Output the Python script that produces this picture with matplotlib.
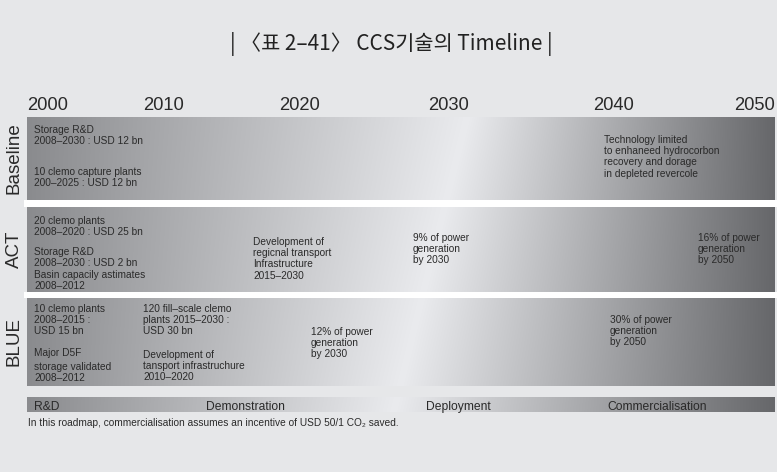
import numpy as np
import matplotlib
matplotlib.use("Agg")
import matplotlib.pyplot as plt
from matplotlib.patches import Rectangle

# ---------------- data ----------------
title = "| 〈표 2–41〉 CCS기술의 Timeline |"
years = [2000, 2010, 2020, 2030, 2040, 2050]
scenarios = ["Baseline", "ACT", "BLUE"]
span_start = [2000, 2000, 2000]
span_end = [2050, 2050, 2050]
phases = ["R&D", "Demonstration", "Deployment", "Commercialisation"]
phase_span = [2000, 2050]

baseline_notes = [
    "Storage R&D\n2008–2030 : USD 12 bn",
    "10 clemo capture plants\n200–2025 : USD 12 bn",
    "Technology limited\nto enhaneed hydrocorbon\nrecovery and dorage\nin depleted revercole",
]
act_notes = [
    "20 clemo plants\n2008–2020 : USD 25 bn",
    "Storage R&D\n2008–2030 : USD 2 bn",
    "Basin capacily astimates\n2008–2012",
    "Development of\nregicnal transport\nInfrastructure\n2015–2030",
    "9% of power\ngeneration\nby 2030",
    "16% of power\ngeneration\nby 2050",
]
blue_notes = [
    "10 clemo plants\n2008–2015 :\nUSD 15 bn",
    "Major D5F",
    "storage validated\n2008–2012",
    "120 fill–scale clemo\nplants 2015–2030 :\nUSD 30 bn",
    "Development of\ntansport infrastruchure\n2010–2020",
    "12% of power\ngeneration\nby 2030",
    "30% of power\ngeneration\nby 2050",
]
footnote = "In this roadmap, commercialisation assumes an incentive of USD 50/1 CO₂ saved."

# ---------------- layout (pixels) ----------------
W, H = 777, 472
BG = "#e6e7e9"
TXT = "#2a2a2a"
X0, X1 = 27, 775            # band horizontal extent
Y0, Y1 = 117, 412           # axes vertical extent
year_px = [27, 164, 300, 449, 614, 775]   # where year labels sit
row_center = [158.5, 249.5, 342.0]
row_height = [83, 85, 88]
phase_center, phase_height = 404.5, 15

baseline_pos = [(34, 125), (34, 167), (604, 135)]
act_pos = [(34, 216), (34, 247), (34, 270), (253, 237), (413, 233), (698, 233)]
blue_pos = [(34, 304), (34, 348), (34, 362), (143, 304), (143, 350), (311, 327), (610, 315)]
phase_pos = [(34, "left"), (245, "center"), (458, "center"), (657, "center")]
phase_baseline = 410

SANS = ["Liberation Sans", "DejaVu Sans"]

fig = plt.figure(figsize=(W / 100, H / 100), dpi=100, facecolor=BG)


def P(x, y):
    return (x / W, 1 - y / H)


axrect = [X0 / W, 1 - Y1 / H, (X1 - X0) / W, (Y1 - Y0) / H]

# gradient axes (pixel coordinates, linear)
gax = fig.add_axes(axrect, zorder=0)
gax.set_xlim(X0, X1)
gax.set_ylim(Y1, Y0)
gax.axis("off")

# main axes with year scale
ax = fig.add_axes(axrect, zorder=1)
ax.patch.set_alpha(0)


def fwd(v):
    return np.interp(v, years, year_px)


def inv(v):
    return np.interp(v, year_px, years)


ax.set_xscale("function", functions=(fwd, inv))
ax.set_xlim(years[0], years[-1])
ax.set_ylim(Y1, Y0)
for s in ax.spines.values():
    s.set_visible(False)

# bars (scenarios + phase bar)
bars = ax.barh(row_center, np.array(span_end) - np.array(span_start), left=span_start,
               height=row_height, color="none", edgecolor="none")
pbar = ax.barh([phase_center], [phase_span[1] - phase_span[0]], left=[phase_span[0]],
               height=[phase_height], color="none", edgecolor="none")

# gradient image
xs = np.linspace(X0, X1, 600)
ys = np.linspace(Y0, Y1, 200)
XX, YY = np.meshgrid(xs, ys)
peak = 468 - 0.25 * (YY - Y0)
lo, hi, rt = 138.0, 234.0, 102.0
left_part = lo + (hi - lo) * (XX - X0) / (peak - X0)
right_part = hi - (hi - rt) * (XX - peak) / (X1 - peak)
c = np.where(XX < peak, left_part, right_part)
img = np.dstack([c, c + 1, c + 4]) / 255.0
img = np.clip(img, 0, 1)
for patch in list(bars) + list(pbar):
    im = gax.imshow(img, extent=(X0, X1, Y1, Y0), aspect="auto", interpolation="bilinear")
    im.set_clip_path(patch)

# white separators between scenario bands
for (ya, yb) in [(200, 207), (292, 298)]:
    fig.patches.append(Rectangle((24 / W, 1 - yb / H), (W - 24) / W, (yb - ya) / H,
                                 transform=fig.transFigure, facecolor="white",
                                 edgecolor="none", zorder=2))

# year ticks on top
ax.xaxis.tick_top()
ax.set_xticks(years)
ax.set_xticklabels([str(y) for y in years], fontsize=13.2, color=TXT, family=SANS)
ax.tick_params(axis="x", length=0, pad=2.5)
labs = ax.get_xticklabels()
labs[0].set_ha("left")
labs[-1].set_ha("right")

# scenario labels
ax.set_yticks(row_center)
ax.set_yticklabels(scenarios, rotation=90, va="center", fontsize=13.5, color=TXT, family=SANS)
ax.tick_params(axis="y", length=0, pad=3)

# notes
note_kw = dict(fontsize=7.3, color=TXT, family=SANS, va="top", ha="left",
               linespacing=1.15, transform=fig.transFigure, zorder=5)
for notes, pos in [(baseline_notes, baseline_pos), (act_notes, act_pos), (blue_notes, blue_pos)]:
    for t, (x, y) in zip(notes, pos):
        fig.text(*P(x, y), t, **note_kw)

# phase labels
for t, (x, ha) in zip(phases, phase_pos):
    fig.text(*P(x, phase_baseline), t, fontsize=8.7, color=TXT, family=SANS,
             ha=ha, va="baseline", transform=fig.transFigure, zorder=5)

# footnote
fig.text(*P(28, 423), footnote, fontsize=7.3, color=TXT, family=SANS,
         ha="left", va="center", transform=fig.transFigure)

# title
fig.text(*P(391, 44), title, fontsize=15, color="#222222",
         family=["Noto Sans CJK KR", "DejaVu Sans"], ha="center", va="center",
         transform=fig.transFigure)

fig.savefig("out.png", dpi=100, facecolor=BG)
